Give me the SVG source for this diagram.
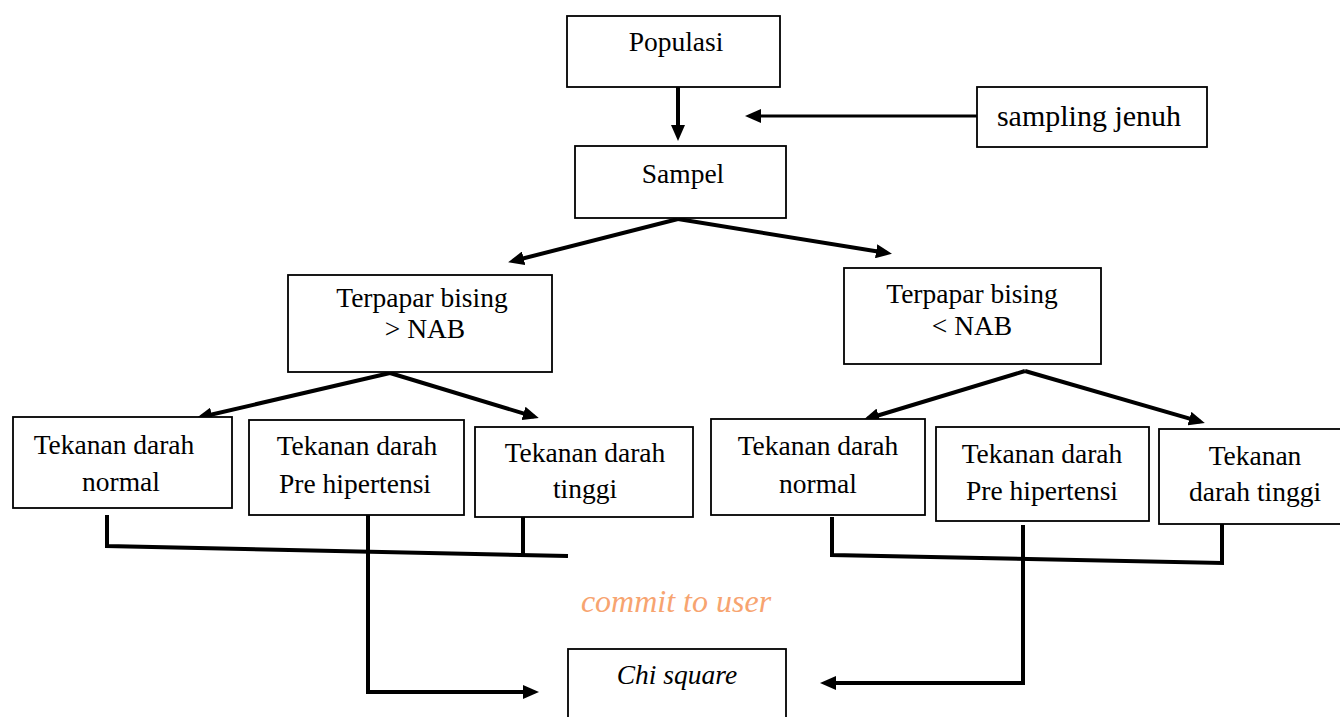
<svg xmlns="http://www.w3.org/2000/svg" width="1340" height="717" viewBox="0 0 1340 717">
<style>
.box{fill:#fff;stroke:#000;stroke-width:1.8}
.t{font-family:"Liberation Serif","Times New Roman",serif;font-size:27.5px;fill:#000;text-anchor:middle}
.it{font-style:italic}
.wm{font-family:"Liberation Serif","Times New Roman",serif;font-size:32px;font-style:italic;fill:#F7A470;text-anchor:middle}
.c{fill:none;stroke:#000;stroke-width:4;stroke-linejoin:miter}
.a{marker-end:url(#ah)}
</style>
<defs>
<marker id="ah" viewBox="0 0 16 14" refX="11" refY="7" markerWidth="16" markerHeight="14" markerUnits="userSpaceOnUse" orient="auto">
<path d="M0,0 L16,7 L0,14 z" fill="#000"/>
</marker>
</defs>
<rect width="1340" height="717" fill="#fff"/>
<g id="connectors">
<path class="c a" d="M678,87 L678,136"/>
<path class="c a" style="stroke-width:3" d="M977,116 L750,116"/>
<path class="c a" d="M678,219 L513,261"/>
<path class="c a" d="M678,219 L887,253"/>
<path class="c a" d="M390,373 L201,417"/>
<path class="c a" d="M390,373 L534,416.6"/>
<path class="c a" d="M1025,371 L868,418.5"/>
<path class="c a" d="M1025,371 L1200,421.6"/>
<path class="c a" d="M368,515 L368,692 L534,692"/>
<path class="c a" d="M1023,525 L1023,683 L825,683"/>
<path class="c" d="M107,515 L107,546 L568,556"/>
<path class="c" d="M523,517 L523,554"/>
<path class="c" d="M832,517 L832,555 L1222,563 L1222,524"/>
</g>
<g id="populasi">
<rect class="box" x="567" y="16" width="213" height="71"/>
<text class="t" x="676" y="51">Populasi</text>
</g>
<g id="sampling-jenuh">
<rect class="box" x="977" y="87" width="230" height="60"/>
<text class="t" style="font-size:30px" x="1089" y="126">sampling jenuh</text>
</g>
<g id="sampel">
<rect class="box" x="575" y="146" width="211" height="72"/>
<text class="t" x="683" y="183">Sampel</text>
</g>
<g id="terpapar-atas">
<rect class="box" x="288" y="275" width="264" height="97"/>
<text class="t" x="422" y="307">Terpapar bising</text>
<text class="t" x="425" y="338">&gt; NAB</text>
</g>
<g id="terpapar-bawah">
<rect class="box" x="844" y="268" width="257" height="96"/>
<text class="t" x="972" y="303">Terpapar bising</text>
<text class="t" x="972" y="335">&lt; NAB</text>
</g>
<g id="l-normal">
<rect class="box" x="13" y="417" width="219" height="91"/>
<text class="t" x="114" y="454">Tekanan darah</text>
<text class="t" x="121" y="491">normal</text>
</g>
<g id="l-pre">
<rect class="box" x="249" y="420" width="215" height="95"/>
<text class="t" x="357" y="455">Tekanan darah</text>
<text class="t" x="355" y="493">Pre hipertensi</text>
</g>
<g id="l-tinggi">
<rect class="box" x="475" y="427" width="218" height="90"/>
<text class="t" x="585" y="462">Tekanan darah</text>
<text class="t" x="585" y="498">tinggi</text>
</g>
<g id="r-normal">
<rect class="box" x="711" y="419" width="214" height="96"/>
<text class="t" x="818" y="455">Tekanan darah</text>
<text class="t" x="818" y="493">normal</text>
</g>
<g id="r-pre">
<rect class="box" x="936" y="427" width="213" height="94"/>
<text class="t" x="1042" y="463">Tekanan darah</text>
<text class="t" x="1042" y="500">Pre hipertensi</text>
</g>
<g id="r-tinggi">
<rect class="box" x="1159" y="429" width="193" height="95"/>
<text class="t" x="1255" y="465">Tekanan</text>
<text class="t" x="1255" y="501">darah tinggi</text>
</g>
<g id="watermark">
<text class="wm" x="676" y="612">commit to user</text>
</g>
<g id="chi-square">
<rect class="box" x="568" y="649" width="218" height="80"/>
<text class="t it" x="677" y="684">Chi square</text>
</g>
</svg>
